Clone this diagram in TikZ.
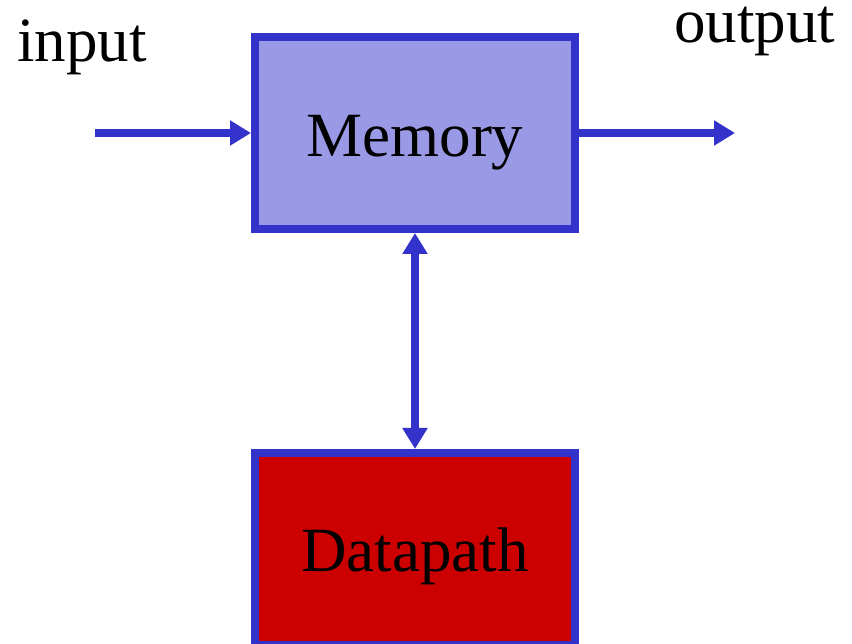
\documentclass[tikz,border=0pt]{standalone}
\usepackage{fontspec}
\setmainfont{Liberation Serif}
\usetikzlibrary{arrows.meta}
\definecolor{edgeblue}{RGB}{51,51,204}
\definecolor{memfill}{RGB}{153,153,230}
\definecolor{dpred}{RGB}{204,0,0}
\begin{document}
\begin{tikzpicture}[x=1pt,y=-1pt,
  unitbox/.style={draw=edgeblue, line width=8pt, rectangle,
    minimum width=320pt, minimum height=191.5pt, inner sep=0pt,
    text height=52pt, text depth=6pt,
    font=\fontsize{63}{75}\selectfont},
  lbl/.style={inner sep=0pt, font=\fontsize{63}{75}\selectfont},
  wire/.style={draw=edgeblue, line width=8pt},
  head/.style={Triangle[length=21pt,width=24pt]}]
  \useasboundingbox (0,0) rectangle (852,644);
  \node[unitbox, fill=memfill] (mem) at (415,133.25) {Memory};
  \node[unitbox, fill=dpred] (dp) at (415,548.75) {Datapath};
  \node[lbl, anchor=base west] (inlbl) at (17,62) {input};
  \node[lbl, anchor=base west] (outlbl) at (674,43) {output};
  \coordinate (src) at (95,133);
  \coordinate (dst) at (735,133);
  \draw[wire, -{Triangle[length=21pt,width=24pt]}, edgeblue] (src) -- (mem.west |- src);
  \draw[wire, -{Triangle[length=21pt,width=24pt]}, edgeblue] (mem.east |- dst) -- (dst);
  \draw[wire, {Triangle[length=21pt,width=24pt]}-{Triangle[length=21pt,width=24pt]}, edgeblue] (mem.south) -- (dp.north);
\end{tikzpicture}
\end{document}
